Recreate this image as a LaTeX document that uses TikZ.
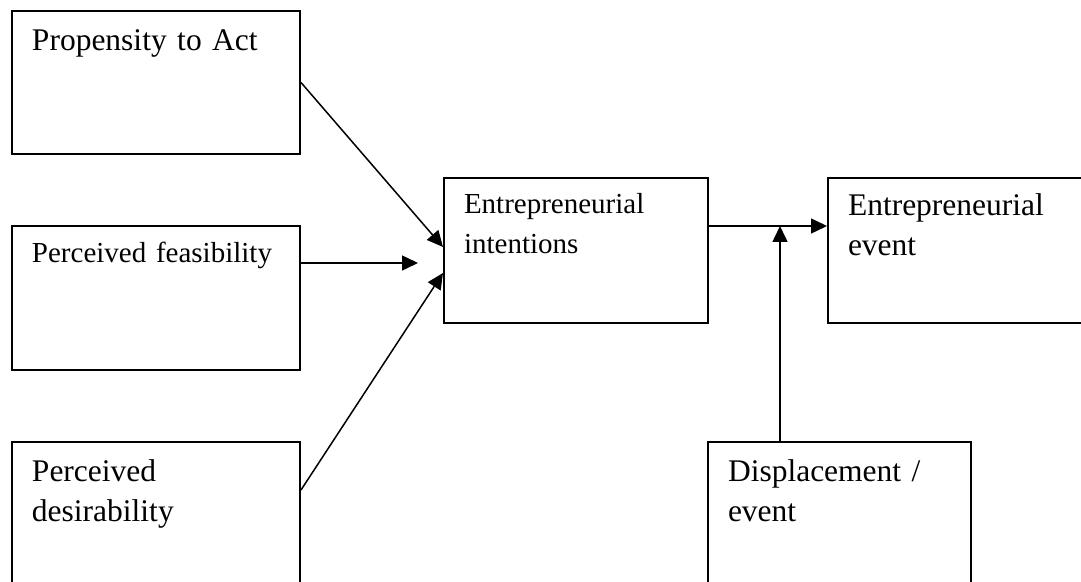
\documentclass[tikz,border=0pt]{standalone}
\usepackage{fontspec}
\setmainfont{Liberation Serif}
\usetikzlibrary{arrows.meta, calc}
\tikzset{
  cbox/.style={draw=black, line width=1pt, rectangle, anchor=north west,
               inner xsep=10pt, inner ysep=0pt, align=left,
               font=\fontsize{15.75pt}{20pt}\selectfont},
  cboxs/.style={cbox, font=\fontsize{14.5pt}{20pt}\selectfont},
  arr/.style={-{Triangle[length=8pt,width=7.5pt]}, line width=0.75pt, black},
}
\begin{document}
\begin{tikzpicture}[x=0.5pt, y=-0.5pt]
  \clip (0,0) rectangle (1081,582);
  \fill[white] (0,0) rectangle (1081,582);
  % left column
  \node[cbox, text width=124pt, text height=20pt, text depth=51.5pt] (prop) at (11,10) {Propensity to Act};
  \node[cboxs, text width=124pt, text height=18.5pt, text depth=53.5pt] (feas) at (11,225) {Perceived feasibility};
  \node[cbox, text width=124pt, text height=19.5pt, text depth=60.5pt] (desir) at (11,441) {Perceived\\desirability};
  % middle and right
  \node[cboxs, text width=112pt, text height=18pt, text depth=54.5pt] (intent) at (443,177) {Entrepreneurial\\intentions};
  \node[cbox, text width=130pt, text height=19pt, text depth=53.5pt] (event) at (827,177) {Entrepreneurial\\event};
  \node[cbox, text width=111.5pt, text height=19.5pt, text depth=60.5pt] (displ) at (707,441) {Displacement /\\event};
  % end points
  \coordinate (in1) at ($(intent.north west)+(0,70)$);
  \coordinate (in2) at ($(intent.north west)+(-25,86)$);
  \coordinate (in3) at ($(intent.north west)+(0,96)$);
  \coordinate (jn) at ($(intent.north east)+(71,49)$);
  \draw[arr] (prop.east) -- (in1);
  \draw[arr] ($(feas.north east)+(0,38)$) -- (in2);
  \draw[arr] ($(desir.north east)+(0,49)$) -- (in3);
  \draw[arr] ($(intent.north east)+(0,49)$) -- (event.west |- jn);
  \draw[arr] (jn |- displ.north) -- (jn);
\end{tikzpicture}
\end{document}
